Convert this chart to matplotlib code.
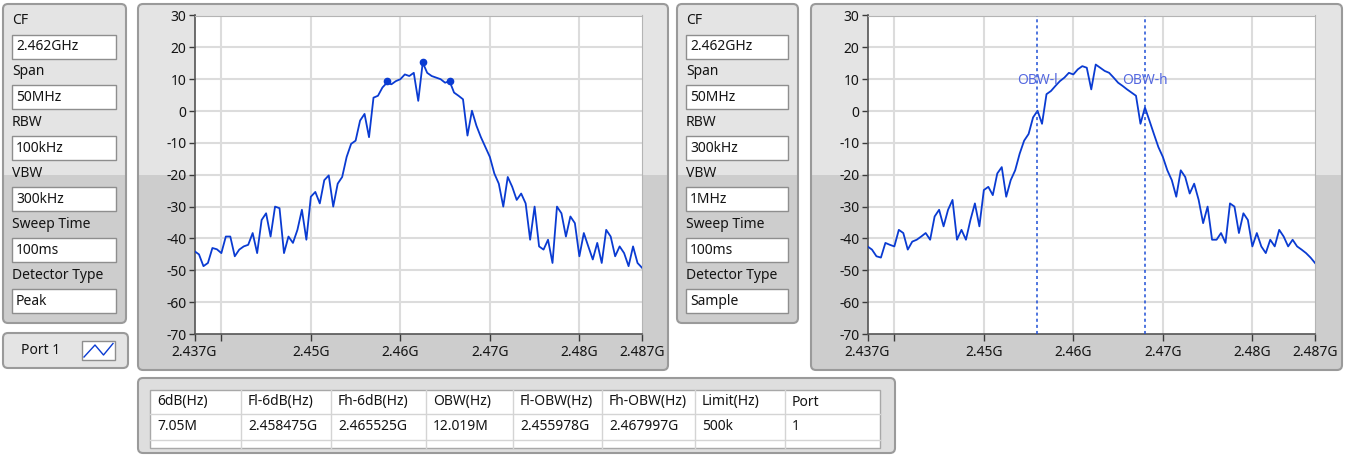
import numpy as np
import matplotlib.pyplot as plt
from matplotlib.patches import FancyBboxPatch, Rectangle

plt.rcParams['font.family'] = ['Noto Sans', 'DejaVu Sans']

# ------------------------------------------------------------
# Data
# ------------------------------------------------------------
f_start, f_stop = 2.437, 2.487   # GHz, sweep span
n_pts = 101
freq = np.linspace(f_start, f_stop, n_pts)

# trace 1 : RBW 100kHz, peak detector (dBm)
peak_trace = [
    -44.0, -45.0, -48.7, -47.7, -43.0, -43.4, -44.6, -39.4, -39.4, -45.6,
    -43.5, -42.5, -42.0, -38.3, -44.6, -34.2, -32.1, -39.4, -30.0, -30.5,
    -44.6, -39.4, -41.4, -37.3, -31.0, -40.4, -26.9, -25.4, -29.0, -21.7,
    -20.2, -30.0, -22.8, -20.7, -14.4, -10.3, -9.3, -3.0, -0.9, -8.2,
    4.2, 4.8, 7.4, 8.9, 8.4, 9.4, 10.0, 11.5, 11.0, 12.0,
    3.2, 15.2, 12.0, 11.0, 10.5, 10.0, 8.9, 9.4, 5.8, 4.8,
    3.7, -7.7, 0.1, -4.6, -8.2, -11.3, -14.4, -19.6, -22.8, -30.0,
    -20.7, -23.8, -27.9, -25.9, -29.0, -40.4, -30.0, -42.5, -43.5, -40.4,
    -47.7, -30.0, -32.1, -39.4, -33.1, -35.2, -45.6, -38.3, -42.5, -46.6,
    -41.4, -47.7, -37.3, -39.4, -45.6, -42.5, -44.6, -48.7, -42.5, -47.7,
    -49.2,
]

# trace 2 : RBW 300kHz, sample detector (dBm)
sample_trace = [
    -42.5, -43.5, -45.6, -46.0, -41.4, -42.0, -42.5, -37.3, -38.3, -43.5,
    -41.0, -40.4, -39.4, -38.3, -40.4, -33.1, -31.0, -36.2, -31.0, -27.9,
    -40.4, -37.3, -40.4, -34.2, -29.0, -36.2, -24.8, -23.8, -26.4, -19.6,
    -17.6, -26.9, -21.7, -18.6, -13.4, -9.3, -7.2, -2.0, 0.1, -4.0,
    5.3, 6.3, 7.9, 9.4, 10.5, 12.0, 11.5, 13.1, 14.1, 13.6,
    6.8, 14.6, 13.6, 12.6, 12.0, 10.5, 8.9, 7.9, 6.8, 5.8,
    4.8, -4.0, 1.1, -3.0, -7.2, -11.3, -14.4, -18.6, -21.7, -26.9,
    -18.6, -20.7, -25.9, -22.8, -27.9, -35.2, -30.0, -40.4, -40.4, -38.3,
    -41.4, -29.0, -30.0, -38.3, -32.1, -34.2, -42.5, -38.3, -42.5, -44.6,
    -40.4, -42.5, -37.3, -39.4, -42.5, -40.4, -42.5, -43.5, -44.6, -46.0,
    -47.7,
]

# 6dB markers (Fl-6dB, peak, Fh-6dB)
marker_freq = [2.458475, 2.4625, 2.465525]
marker_db = [9.3, 15.3, 9.3]

# occupied bandwidth cursors
obw_low, obw_high = 2.455978, 2.467997

y_ticks = [-70, -60, -50, -40, -30, -20, -10, 0, 10, 20, 30]
x_ticks = [2.437, 2.44, 2.45, 2.46, 2.47, 2.48, 2.487]
x_labels = ['2.437G', '', '2.45G', '2.46G', '2.47G', '2.48G', '2.487G']
x_grid = [2.44, 2.45, 2.46, 2.47, 2.48]

param_labels = ['CF', 'Span', 'RBW', 'VBW', 'Sweep Time', 'Detector Type']
params_1 = ['2.462GHz', '50MHz', '100kHz', '300kHz', '100ms', 'Peak']
params_2 = ['2.462GHz', '50MHz', '300kHz', '1MHz', '100ms', 'Sample']

table_head = ['6dB(Hz)', 'Fl-6dB(Hz)', 'Fh-6dB(Hz)', 'OBW(Hz)',
              'Fl-OBW(Hz)', 'Fh-OBW(Hz)', 'Limit(Hz)', 'Port']
table_row = ['7.05M', '2.458475G', '2.465525G', '12.019M',
             '2.455978G', '2.467997G', '500k', '1']

# ------------------------------------------------------------
# Figure / helpers (pixel coordinates, origin top-left)
# ------------------------------------------------------------
W, H = 1348, 455
TRACE = '#0a3bd2'
TXT = '#141414'
FS = 10

fig = plt.figure(figsize=(W / 100, H / 100), dpi=100)
fig.patch.set_facecolor('white')

bg = fig.add_axes([0, 0, 1, 1])
bg.set_xlim(0, W)
bg.set_ylim(H, 0)
bg.axis('off')


def panel(x0, y0, x1, y1, split=175, top='#e4e4e4', bottom='#cdcdcd'):
    p = FancyBboxPatch((x0, y0), x1 - x0, y1 - y0,
                       boxstyle='round,pad=0,rounding_size=5',
                       fc=top, ec='none')
    bg.add_patch(p)
    if split < y1:
        r = Rectangle((x0, split), x1 - x0, y1 - split, fc=bottom, ec='none')
        bg.add_patch(r)
        r.set_clip_path(p)
    bg.add_patch(FancyBboxPatch((x0, y0), x1 - x0, y1 - y0,
                                boxstyle='round,pad=0,rounding_size=5',
                                fc='none', ec='#9a9a9a', lw=1.5))


def field(x0, y0, x1, y1, text):
    bg.add_patch(Rectangle((x0, y0), x1 - x0, y1 - y0, fc='white',
                           ec='#8e8e8e', lw=1.0))
    bg.text(x0 + 4, (y0 + y1) / 2 + 0.5, text, ha='left', va='center',
            fontsize=FS, color=TXT)


def control_panel(x0, x1, values):
    panel(x0, 4, x1, 323)
    for k, (lab, val) in enumerate(zip(param_labels, values)):
        yl = 21 + 50.9 * k
        bg.text(x0 + 9, yl, lab, ha='left', va='center', fontsize=FS, color=TXT)
        ybox = 34.5 + 50.9 * k
        field(x0 + 9, ybox, x1 - 10, ybox + 24, val)


def ax_rect(l, t, r, b):
    return [l / W, 1 - b / H, (r - l) / W, (b - t) / H]


def graph(rect, trace):
    ax = fig.add_axes(rect)
    ax.set_facecolor('white')
    for x in x_grid:
        ax.axvline(x, color='#dcdcdc', lw=1.5, zorder=0)
    for y in y_ticks[1:-1]:
        ax.axhline(y, color='#dcdcdc', lw=1.5, zorder=0)
    ax.plot(freq, trace, color=TRACE, lw=1.3, zorder=3)
    ax.set_xlim(f_start, f_stop)
    ax.set_ylim(-70, 30)
    ax.set_yticks(y_ticks)
    ax.set_yticklabels([str(v) for v in y_ticks])
    ax.set_xticks(x_ticks)
    ax.set_xticklabels(x_labels)
    ax.tick_params(axis='both', direction='out', length=4, width=1,
                   color='#3a3a3a', labelsize=FS, labelcolor=TXT, pad=2)
    ax.tick_params(axis='x', length=5, pad=3)
    for s in ['top', 'right']:
        ax.spines[s].set_color('#b4b4b4')
    for s in ['left', 'bottom']:
        ax.spines[s].set_color('#555555')
        ax.spines[s].set_linewidth(1.2)
    return ax


# ------------------------------------------------------------
# Left block: settings + peak detector graph
# ------------------------------------------------------------
control_panel(3, 126, params_1)

panel(3, 333, 128, 368, split=500)
bg.text(41, 351, 'Port 1', ha='center', va='center', fontsize=FS, color=TXT)
bg.add_patch(Rectangle((82, 341), 33, 19, fc='white', ec='#8e8e8e', lw=1))
bg.plot([84, 95, 103.5, 113], [357, 345, 355, 343.5], color=TRACE, lw=1)

panel(138, 4, 668, 370)
ax1 = graph(ax_rect(194.5, 15.5, 642, 334), peak_trace)
ax1.plot(marker_freq, marker_db, 'o', color=TRACE, ms=4.5, zorder=4)

# ------------------------------------------------------------
# Right block: settings + sample detector graph with OBW cursors
# ------------------------------------------------------------
control_panel(677, 798, params_2)

panel(811, 4, 1342, 370)
ax2 = graph(ax_rect(867.5, 15.5, 1315, 334), sample_trace)
for f, name in [(obw_low, 'OBW-l'), (obw_high, 'OBW-h')]:
    ax2.axvline(f, color='#1f4fd6', lw=1.1, ls=(0, (2, 2)), zorder=4)
    ax2.text(f, 9.5, name, ha='center', va='center', fontsize=FS,
             color='#5468e0', zorder=5)

# ------------------------------------------------------------
# Result table
# ------------------------------------------------------------
panel(138, 378, 895, 453, split=500, top='#dedede')
col_edges = [150, 241, 331, 426, 513, 602, 695, 785, 880]
row_top, row_mid, row_bot, tbl_bot = 390, 414, 440, 448
bg.add_patch(Rectangle((col_edges[0], row_top), col_edges[-1] - col_edges[0],
                       tbl_bot - row_top, fc='white', ec='#a8a8a8', lw=1))
for x in col_edges[1:-1]:
    bg.plot([x, x], [row_top, tbl_bot], color='#d4d4d4', lw=1)
for y in [row_mid, row_bot]:
    bg.plot([col_edges[0], col_edges[-1]], [y, y], color='#d4d4d4', lw=1)
for k in range(len(table_head)):
    bg.text(col_edges[k] + 7, (row_top + row_mid) / 2, table_head[k],
            ha='left', va='center', fontsize=FS, color=TXT)
    bg.text(col_edges[k] + 7, (row_mid + row_bot) / 2, table_row[k],
            ha='left', va='center', fontsize=FS, color=TXT)

fig.savefig('out.png', dpi=100)
